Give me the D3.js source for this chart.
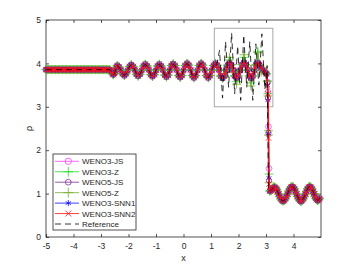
<!DOCTYPE html>
<html>
<head>
<meta charset="utf-8">
<script src="https://cdn.jsdelivr.net/npm/d3@7"></script>
<style>
  body { margin: 0; background: #fff; }
  svg { display: block; font-family: "Liberation Sans", Arial, sans-serif; }
</style>
</head>
<body>
<div id="chart"></div>
<script>
// smooth numerical solution, common to all schemes away from the shock
var baseX = [-5.00, -4.95, -4.90, -4.85, -4.80, -4.75, -4.70, -4.65, -4.60, -4.55, -4.50, -4.45, -4.40, -4.35,
    -4.30, -4.25, -4.20, -4.15, -4.10, -4.05, -4.00, -3.95, -3.90, -3.85, -3.80, -3.75, -3.70, -3.65,
    -3.60, -3.55, -3.50, -3.45, -3.40, -3.35, -3.30, -3.25, -3.20, -3.15, -3.10, -3.05, -3.00, -2.95,
    -2.90, -2.85, -2.80, -2.75, -2.70,
    -2.66, -2.62, -2.58, -2.55, -2.51, -2.48, -2.44, -2.41, -2.35, -2.28, -2.22, -2.15, -2.09, -2.03,
    -1.96, -1.90, -1.83, -1.77, -1.71, -1.65, -1.58, -1.52, -1.45, -1.39, -1.32, -1.26, -1.19, -1.13,
    -1.06, -1.00, -0.94, -0.88, -0.81, -0.75, -0.68, -0.62, -0.56, -0.50, -0.44, -0.38, -0.31, -0.25,
    -0.18, -0.12, -0.06, 0.00, 0.06, 0.13, 0.19, 0.26, 0.32, 0.38, 0.44, 0.51, 0.57, 0.64, 0.70, 0.77,
    0.83, 0.90, 0.96, 1.03, 1.09, 1.16, 1.22, 1.29, 1.35, 1.42, 1.48, 1.55, 1.61, 1.67, 1.74, 1.80,
    1.86, 1.93, 1.99, 2.06, 2.13, 2.20, 2.26, 2.33, 2.39, 2.45, 2.52, 2.58, 2.64, 2.70, 2.76, 2.82,
    2.88, 2.94, 2.98, 3.02,
    3.14, 3.17, 3.20, 3.23, 3.25, 3.28, 3.31, 3.35, 3.39, 3.42, 3.46, 3.50, 3.54, 3.58, 3.62, 3.66,
    3.70, 3.74, 3.78, 3.83, 3.87, 3.91, 3.95, 3.99, 4.03, 4.07, 4.11, 4.15, 4.19, 4.23, 4.27, 4.31,
    4.35, 4.39, 4.43, 4.47, 4.51, 4.55, 4.59, 4.63, 4.67, 4.71, 4.74, 4.78, 4.81, 4.85, 4.88, 4.92, 4.95];
var baseY = [3.857, 3.857, 3.857, 3.857, 3.857, 3.857, 3.857, 3.857, 3.857, 3.857, 3.857, 3.857, 3.857, 3.857,
    3.857, 3.857, 3.857, 3.857, 3.857, 3.857, 3.857, 3.857, 3.857, 3.857, 3.857, 3.857, 3.857, 3.857,
    3.857, 3.857, 3.857, 3.857, 3.857, 3.857, 3.857, 3.857, 3.857, 3.857, 3.857, 3.857, 3.857, 3.857,
    3.857, 3.857, 3.857, 3.857, 3.857,
    3.84, 3.81, 3.76, 3.74, 3.77, 3.83, 3.91, 3.95, 3.92, 3.85, 3.76, 3.72, 3.76, 3.84,
    3.93, 3.97, 3.93, 3.85, 3.75, 3.71, 3.75, 3.84, 3.94, 3.98, 3.94, 3.85, 3.74, 3.70,
    3.74, 3.84, 3.94, 3.98, 3.94, 3.85, 3.73, 3.69, 3.73, 3.84, 3.95, 3.99, 3.95, 3.85,
    3.72, 3.68, 3.72, 3.84, 3.95, 4.00, 3.96, 3.85, 3.72, 3.67, 3.72, 3.84, 3.95, 4.00, 3.96, 3.85,
    3.72, 3.67, 3.72, 3.84, 3.95, 4.00, 3.96, 3.85, 3.71, 3.66, 3.71, 3.84, 3.96, 4.01, 3.97, 3.85,
    3.71, 3.66, 3.71, 3.84, 3.97, 4.02, 3.97, 3.85, 3.71, 3.66, 3.71, 3.84, 3.97, 4.02, 3.97, 3.90,
    3.85, 3.82, 3.79, 3.76,
    1.06, 1.07, 1.08, 1.10, 1.12, 1.14, 1.15, 1.13, 1.10, 1.05, 0.99, 0.93, 0.88, 0.84, 0.83, 0.84,
    0.88, 0.93, 0.99, 1.06, 1.11, 1.15, 1.16, 1.15, 1.11, 1.05, 0.99, 0.93, 0.88, 0.84, 0.82, 0.84,
    0.88, 0.93, 0.99, 1.05, 1.11, 1.15, 1.16, 1.15, 1.11, 1.05, 1.00, 0.94, 0.89, 0.86, 0.84, 0.86, 0.89];

// points where each scheme departs from the common curve (shock, oscillations in the box)
var weno3jsX = [3.05, 3.07, 3.09, 3.11];
var weno3jsY = [3.57, 3.34, 2.54, 1.58];
var weno3zX = [1.67, 1.93, 2.20, 2.45, 2.70, 2.82, 3.05, 3.07, 3.09, 3.11];
var weno3zY = [4.08, 3.58, 4.14, 3.55, 4.28, 3.84, 3.60, 3.30, 2.45, 1.45];
var weno5jsX = [3.05, 3.07, 3.09, 3.11];
var weno5jsY = [3.55, 3.20, 2.40, 1.30];
var weno5zX = [1.67, 1.80, 1.93, 2.20, 2.45, 2.58, 2.70, 2.82, 3.05, 3.07, 3.09, 3.11];
var weno5zY = [4.14, 3.80, 3.52, 4.20, 3.48, 3.95, 4.25, 3.80, 3.58, 3.25, 2.35, 1.25];
var snn1X = [3.05, 3.07, 3.09, 3.11];
var snn1Y = [3.50, 3.15, 2.38, 1.36];
var snn2X = [3.05, 3.07, 3.09, 3.11];
var snn2Y = [3.48, 3.30, 2.28, 1.22];

// reference solution: high frequency part behind the shock
var refHfX = [1.20, 1.31, 1.42, 1.53, 1.64, 1.75, 1.86, 1.97, 2.08, 2.19, 2.30, 2.41, 2.52, 2.63, 2.74, 2.85, 2.96, 3.04, 3.09];
var refHfY = [3.95, 4.30, 3.20, 4.50, 3.45, 4.70, 3.30, 4.40, 3.15, 4.65, 3.45, 4.50, 3.15, 4.45, 3.50, 4.68, 3.40, 3.95, 1.06];

var names = ['WENO3-JS', 'WENO3-Z', 'WENO5-JS', 'WENO5-Z', 'WENO3-SNN1', 'WENO3-SNN2', 'Reference'];
var xTicks = [-5, -4, -3, -2, -1, 0, 1, 2, 3, 4];
var yTicks = [0, 1, 2, 3, 4, 5];

var width = 354, height = 266;
var margin = {left: 46, right: 321, top: 20, bottom: 237};
var axisColor = '#262626';

function pairs(xs, ys) {
    return xs.map(function (v, i) { return [v, ys[i]]; });
}
// common curve with a scheme's own points put in place
function merge(patch) {
    var byX = {};
    pairs(baseX, baseY).forEach(function (p) { byX[p[0].toFixed(2)] = p; });
    patch.forEach(function (p) { byX[p[0].toFixed(2)] = p; });
    return Object.keys(byX).map(function (k) { return byX[k]; })
        .sort(function (a, b) { return a[0] - b[0]; });
}

var base = pairs(baseX, baseY);
var refData = base.filter(function (p) { return p[0] < 1.2; })
    .concat(pairs(refHfX, refHfY))
    .concat(base.filter(function (p) { return p[0] > 3.12; }));

var series = [
    {name: names[0], data: merge(pairs(weno3jsX, weno3jsY)), color: '#ff40ff', symbol: d3.symbolCircle, size: 26, width: 0.8},
    {name: names[1], data: merge(pairs(weno3zX, weno3zY)), color: '#22dd22', symbol: d3.symbolPlus, size: 28, width: 0.8},
    {name: names[2], data: merge(pairs(weno5jsX, weno5jsY)), color: '#7e2f8e', symbol: d3.symbolCircle, size: 22, width: 0.8},
    {name: names[3], data: merge(pairs(weno5zX, weno5zY)), color: '#77ac30', symbol: d3.symbolPlus, size: 28, width: 0.8},
    {name: names[4], data: merge(pairs(snn1X, snn1Y)), color: '#1010ff', symbol: d3.symbolAsterisk, size: 22, width: 0.9},
    {name: names[5], data: merge(pairs(snn2X, snn2Y)), color: '#ff1010', symbol: d3.symbolTimes, size: 20, width: 1.6}
];

var x = d3.scaleLinear().domain([-5, 5]).range([margin.left, margin.right]);
var y = d3.scaleLinear().domain([0, 5]).range([margin.bottom, margin.top]);

var svg = d3.select('#chart').append('svg')
    .attr('width', width)
    .attr('height', height);

//draw axes box with inward ticks
svg.append('rect')
    .attr('x', margin.left).attr('y', margin.top)
    .attr('width', margin.right - margin.left).attr('height', margin.bottom - margin.top)
    .attr('fill', 'none').attr('stroke', axisColor).attr('stroke-width', 0.8);

var xAxis = svg.append('g').attr('transform', 'translate(0,' + margin.bottom + ')')
    .call(d3.axisBottom(x).tickValues(xTicks).tickSize(-3).tickPadding(6).tickFormat(d3.format('d')));
var xTop = svg.append('g').attr('transform', 'translate(0,' + margin.top + ')')
    .call(d3.axisTop(x).tickValues(xTicks).tickSize(-3).tickFormat(''));
var yAxis = svg.append('g').attr('transform', 'translate(' + margin.left + ',0)')
    .call(d3.axisLeft(y).tickValues(yTicks).tickSize(-3).tickPadding(5).tickFormat(d3.format('d')));
var yRight = svg.append('g').attr('transform', 'translate(' + margin.right + ',0)')
    .call(d3.axisRight(y).tickValues(yTicks).tickSize(-3).tickFormat(''));

[xAxis, xTop, yAxis, yRight].forEach(function (g) {
    g.select('.domain').remove();
    g.selectAll('line').attr('stroke', axisColor).attr('stroke-width', 0.8);
    g.selectAll('text').attr('fill', axisColor).attr('font-size', '8.5px')
        .attr('font-family', '"Liberation Sans", Arial, sans-serif');
});
xAxis.selectAll('text').text(function (d) { return d < 0 ? '-' + Math.abs(d) : d; });

//axis labels
svg.append('text').text('x')
    .attr('x', (margin.left + margin.right) / 2).attr('y', 261)
    .attr('text-anchor', 'middle').attr('font-size', '9px').attr('fill', axisColor);
svg.append('text').text('ρ')
    .attr('transform', 'translate(32,' + ((margin.top + margin.bottom) / 2) + ') rotate(-90)')
    .attr('text-anchor', 'middle').attr('font-size', '9px').attr('fill', axisColor);

//zoom box
svg.append('rect')
    .attr('x', x(1.12)).attr('y', y(4.81))
    .attr('width', x(3.25) - x(1.12)).attr('height', y(3.0) - y(4.81))
    .attr('fill', 'none').attr('stroke', '#a0a0a0').attr('stroke-width', 0.9);

var line = d3.line()
    .x(function (d) { return x(d[0]); })
    .y(function (d) { return y(d[1]); })
    .curve(d3.curveCatmullRom);

//draw schemes: line then markers
series.forEach(function (s) {
    var g = svg.append('g');
    g.append('path').datum(s.data)
        .attr('d', line)
        .attr('fill', 'none').attr('stroke', s.color).attr('stroke-width', s.width);
    g.selectAll('path.mk').data(s.data).enter().append('path')
        .attr('class', 'mk')
        .attr('transform', function (d) { return 'translate(' + x(d[0]) + ',' + y(d[1]) + ')'; })
        .attr('d', d3.symbol().type(s.symbol).size(s.size))
        .attr('fill', 'none').attr('stroke', s.color).attr('stroke-width', 0.8);
});

//reference on top
svg.append('path').datum(refData)
    .attr('d', d3.line().x(function (d) { return x(d[0]); }).y(function (d) { return y(d[1]); }))
    .attr('fill', 'none').attr('stroke', '#000').attr('stroke-width', 0.8)
    .attr('stroke-dasharray', '6,4');

//legend
var lgX = 53, lgY = 154, lgW = 83, lgH = 76, rowH = 10.45;
svg.append('rect')
    .attr('x', lgX).attr('y', lgY).attr('width', lgW).attr('height', lgH)
    .attr('fill', '#fff').attr('stroke', axisColor).attr('stroke-width', 0.8);
var legendItems = series.concat([{name: names[6], color: '#000', dash: '6,4'}]);
legendItems.forEach(function (s, i) {
    var cy = lgY + 7.3 + i * rowH;
    svg.append('line')
        .attr('x1', 55).attr('x2', 79).attr('y1', cy).attr('y2', cy)
        .attr('stroke', s.color).attr('stroke-width', 0.8)
        .attr('stroke-dasharray', s.dash || null);
    if (s.symbol) {
        svg.append('path')
            .attr('transform', 'translate(68.3,' + cy + ')')
            .attr('d', d3.symbol().type(s.symbol).size(s.size * 1.2))
            .attr('fill', 'none').attr('stroke', s.color).attr('stroke-width', 0.8);
    }
    svg.append('text').text(s.name)
        .attr('x', 82).attr('y', cy + 3)
        .attr('font-size', '8px').attr('fill', axisColor);
});
</script>
</body>
</html>
